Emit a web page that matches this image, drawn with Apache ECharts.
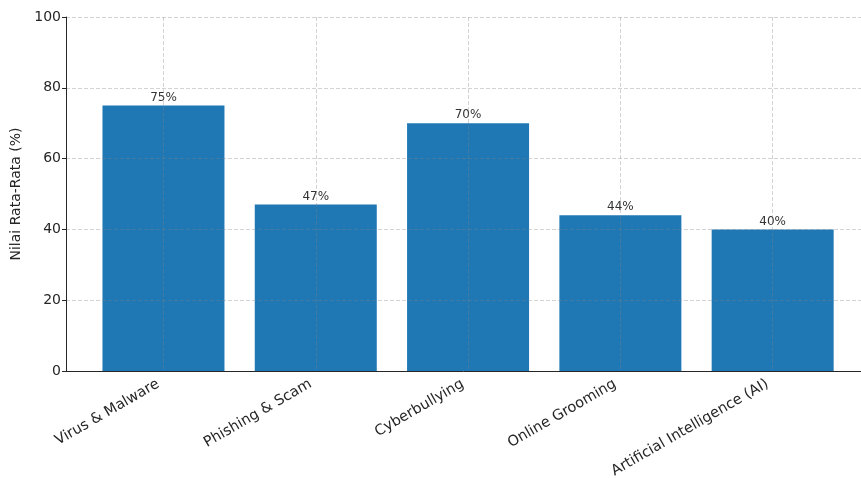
<!DOCTYPE html>
<html>
<head>
<meta charset="utf-8">
<script src="https://cdn.jsdelivr.net/npm/echarts@6/dist/echarts.min.js"></script>
<style>
html,body{margin:0;padding:0;background:#fff;}
#chart{width:861px;height:478px;}
</style>
</head>
<body>
<div id="chart"></div>
<script>
// data
var categories = ['Virus & Malware', 'Phishing & Scam', 'Cyberbullying', 'Online Grooming', 'Artificial Intelligence (AI)'];
var nilai = [75, 47, 70, 44, 40];
var yTicks = [0, 20, 40, 60, 80, 100];

var font = 'DejaVu Sans';
var textColor = '#262626';
var gridColor = 'rgba(128,128,128,0.35)';

var positions = [];
var barData = [];
for (var i = 0; i < categories.length; i++) {
	positions.push(i);
	barData.push([i, nilai[i]]);
}

var chart = echarts.init(document.getElementById('chart'));
var option = {
	animation: false,
	grid: { left: 66, right: 0, top: 17, bottom: 107, outerBoundsMode: 'none' },
	xAxis: {
		type: 'value',
		min: -0.64,
		max: 4.58,
		z: 3,
		axisLine: { show: true, onZero: false, lineStyle: { color: textColor, width: 1 } },
		axisTick: { show: false, customValues: positions },
		axisLabel: {
			customValues: positions,
			rotate: 30,
			margin: 9,
			padding: [0, 6, 0, 0],
			fontFamily: font,
			fontSize: 14.5,
			color: textColor,
			formatter: function (v) { return categories[Math.round(v)]; }
		},
		splitLine: { show: true, lineStyle: { color: gridColor, type: 'dashed', width: 1 } }
	},
	yAxis: {
		type: 'value',
		min: yTicks[0],
		max: yTicks[yTicks.length - 1],
		interval: 20,
		z: 3,
		name: 'Nilai Rata-Rata (%)',
		nameLocation: 'middle',
		nameGap: 40,
		nameTextStyle: { fontFamily: font, fontSize: 14, color: textColor },
		axisLine: { show: true, onZero: false, lineStyle: { color: textColor, width: 1 } },
		axisTick: { show: true, length: 4, lineStyle: { color: textColor } },
		axisLabel: { margin: 5, fontFamily: font, fontSize: 14, color: textColor },
		splitLine: { show: true, lineStyle: { color: gridColor, type: 'dashed', width: 1 } }
	},
	series: [{
		type: 'bar',
		data: barData,
		barWidth: 122,
		itemStyle: { color: '#1f77b4' },
		label: {
			show: true,
			position: 'top',
			distance: 2,
			fontFamily: font,
			fontSize: 12,
			color: '#333',
			formatter: function (p) { return p.value[1] + '%'; }
		}
	}]
};
chart.setOption(option);
window.addEventListener('resize', chart.resize);
</script>
</body>
</html>
